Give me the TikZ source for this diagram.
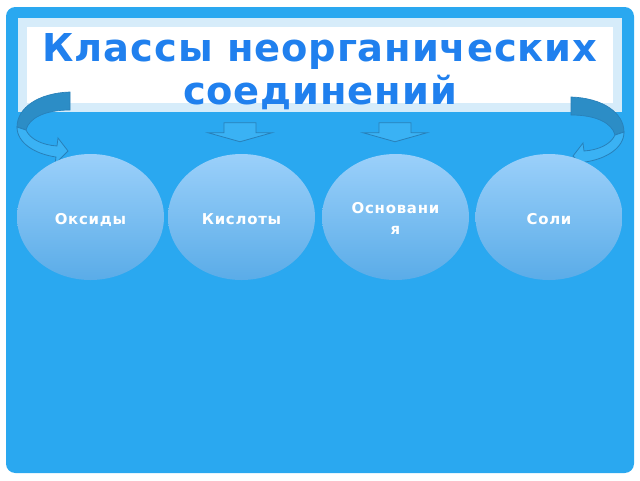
\documentclass[tikz,border=0pt]{standalone}
\usepackage{fontspec}
\setmainfont{DejaVu Sans}
\usetikzlibrary{shapes.geometric,calc}
\definecolor{bgblue}{RGB}{42,168,240}
\definecolor{titleblue}{RGB}{32,128,238}
\definecolor{paleborder}{RGB}{214,236,250}
\definecolor{circtop}{RGB}{155,208,250}
\definecolor{circbot}{RGB}{90,172,232}
\definecolor{darkband}{RGB}{44,141,198}
\definecolor{lightband}{RGB}{58,178,244}
\definecolor{arrowline}{RGB}{40,128,185}
\newcommand{\lblstrut}{\rule[-2pt]{0pt}{14.5pt}}
\tikzset{
  classnode/.style={ellipse, minimum width=110.25pt, minimum height=94.5pt, inner sep=0pt,
    top color=circtop, bottom color=circbot, draw=none, text=white,
    font=\bfseries\fontsize{11.2}{14.25}\selectfont\addfontfeature{LetterSpace=5}, align=center},
  titletext/.style={text=titleblue, font=\bfseries\fontsize{28.8}{32}\selectfont\addfontfeature{LetterSpace=2.3}, inner sep=0pt},
  downarrow/.style={fill=lightband, draw=arrowline, line width=0.6pt, line join=miter},
  backband/.style={fill=darkband, draw=arrowline, line width=0.5pt},
  frontband/.style={fill=lightband, draw=arrowline, line width=0.6pt, line join=miter}
}
\begin{document}
\begin{tikzpicture}[x=0.75pt,y=-0.75pt]
\useasboundingbox (0,0) rectangle (640,480);
\fill[white] (0,0) rectangle (640,480);
% blue panel
\fill[bgblue, rounded corners=7pt] (6,7) rectangle (634,473);
% title box
\fill[paleborder] (18,18) rectangle (622,112);
\fill[white] (27,27) rectangle (613,103);
\node[titletext, anchor=base] (title1) at (320,61) {Классы неорганических};
\node[titletext, anchor=base] (title2) at (320,104) {соединений};
% curved arrows
\begin{scope}
  \path[backband] (70,92) .. controls (38,93) and (17,108) .. (17,127)
     -- (26,130) .. controls (29,118) and (45,110) .. (70,110) -- cycle;
  \path[frontband] (17,127) .. controls (17,143) and (35,154) .. (56,157)
     -- (55,164) -- (68,151) -- (58,138) -- (57,146)
     .. controls (42,145) and (30,139) .. (26,130) -- cycle;
\end{scope}
\begin{scope}[shift={(641,5)}, xscale=-1]
  \path[backband] (70,92) .. controls (38,93) and (17,108) .. (17,127)
     -- (26,130) .. controls (29,118) and (45,110) .. (70,110) -- cycle;
  \path[frontband] (17,127) .. controls (17,143) and (35,154) .. (56,157)
     -- (55,164) -- (68,151) -- (58,138) -- (57,146)
     .. controls (42,145) and (30,139) .. (26,130) -- cycle;
\end{scope}
% class nodes
\node[classnode] (oxides) at (90.5,217) {\lblstrut Оксиды};
\node[classnode] (acids) at (241.5,217) {\lblstrut Кислоты};
\node[classnode] (bases) at (395.5,217) {\lblstrut Основани\\\lblstrut я};
\node[classnode] (salts) at (549,217) {\lblstrut Соли};
% down arrows
\coordinate (tipA) at ($(acids.north)+(-1.5,-12)$);
\coordinate (tipB) at ($(bases.north)+(-0.5,-12)$);
\foreach \t in {tipA,tipB}{
  \path[downarrow] (\t) -- ++(-32,-9) -- ++(16,0) -- ++(0,-10) -- ++(32,0)
     -- ++(0,10) -- ++(16,0) -- cycle;
}
\end{tikzpicture}
\end{document}
